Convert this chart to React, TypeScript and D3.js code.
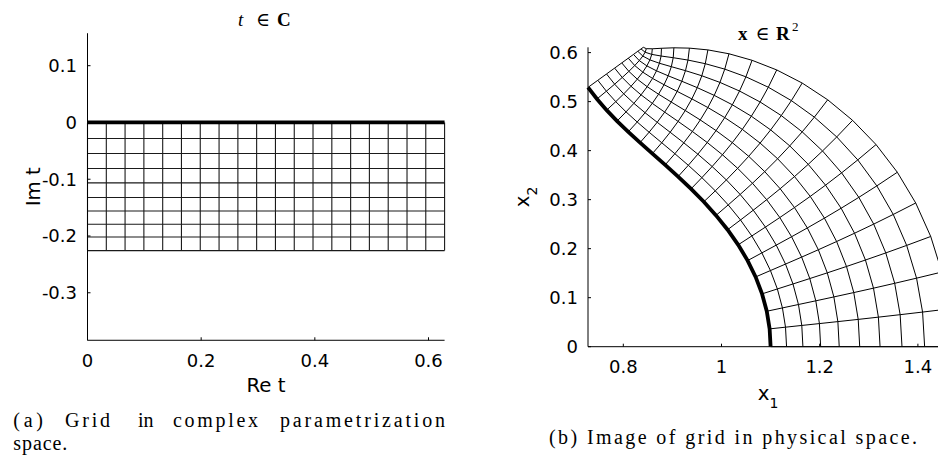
import * as d3 from 'd3';

// grid in the complex parameter plane
const reT = [
  0, 0.0331, 0.0661, 0.0992, 0.1323, 0.1653, 0.1984, 0.2315, 0.2646, 0.2976,
  0.3307, 0.3638, 0.3968, 0.4299, 0.463, 0.496, 0.5291, 0.5622, 0.5952, 0.6283,
];
const imT = [0, -0.0282, -0.0547, -0.0811, -0.1065, -0.1323, -0.1559, -0.1794, -0.2018, -0.2257];

const leftXTicks = [0, 0.2, 0.4, 0.6];
const leftYTicks = [0.1, 0, -0.1, -0.2, -0.3];
const leftYLim = [-0.3837, 0.1572];
const rightXTicks = [0.8, 1, 1.2, 1.4];
const rightYTicks = [0, 0.1, 0.2, 0.3, 0.4, 0.5, 0.6];

// boundary r = 1 + AMP cos(FOLD theta), extended to x(t) = e^{it} (1 + AMP cos(FOLD t))
const AMP = 0.1;
const FOLD = 5;

function toPhysical(a: number, b: number): [number, number] {
  const gr = 1 + AMP * Math.cos(FOLD * a) * Math.cosh(FOLD * b);
  const gi = -AMP * Math.sin(FOLD * a) * Math.sinh(FOLD * b);
  const m = Math.exp(-b);
  return [m * (Math.cos(a) * gr - Math.sin(a) * gi), m * (Math.sin(a) * gr + Math.cos(a) * gi)];
}

const sans = 'DejaVu Sans, sans-serif';
const serif = 'Liberation Serif, DejaVu Serif, serif';

export default function App() {
  // left panel
  const xL = d3.scaleLinear().domain([0, 0.6]).range([87.5, 428.5]);
  const yL = d3.scaleLinear().domain([-0.2, 0.1]).range([236, 65.7]);
  const line = d3.line<[number, number]>();

  const lx0 = xL(0);
  const lx1 = xL(reT[reT.length - 1]);
  const ly0 = yL(leftYLim[0]);
  const ly1 = yL(leftYLim[1]);

  // right panel
  const xR = d3.scaleLinear().domain([0.8, 1.4]).range([623.3, 917.9]);
  const yR = d3.scaleLinear().domain([0, 0.6]).range([346.7, 52.6]);

  const arcs = imT.map((b) => reT.map((a) => toPhysical(a, b)));
  const rays = reT.map((a) => imT.map((b) => toPhysical(a, b)));
  const all = arcs.flat();
  const xMin = d3.min(all, (d) => d[0]) as number;
  const xMax = d3.max(all, (d) => d[0]) as number;
  const yMax = d3.max(all, (d) => d[1]) as number;
  const lineR = d3.line<[number, number]>().x((d) => xR(d[0])).y((d) => yR(d[1]));

  const rx0 = xR(xMin);
  const rx1 = xR(xMax);
  const ry0 = yR(0);
  const ry1 = yR(yMax);

  const cxL = (lx0 + lx1) / 2;
  const cxR = (rx0 + rx1) / 2;

  return (
    <svg
      width={938}
      height={460}
      style={{ position: 'absolute', left: 0, top: 0, background: '#fff' }}
    >
      {/* ---------- panel (a) ---------- */}
      <g fill="none" stroke="#1a1a1a" strokeWidth={1.1}>
        {reT.map((a, i) => (
          <path key={'v' + i} d={line([[xL(a), yL(imT[0])], [xL(a), yL(imT[imT.length - 1])]]) as string} />
        ))}
        {imT.slice(1).map((b, i) => (
          <path key={'h' + i} d={line([[lx0, yL(b)], [lx1, yL(b)]]) as string} />
        ))}
      </g>
      <path d={line([[lx0, yL(0)], [lx1, yL(0)]]) as string} stroke="#000" strokeWidth={3.8} />
      <g stroke="#000" strokeWidth={1}>
        <line x1={lx0} x2={lx0} y1={ly1} y2={ly0} />
        <line x1={lx0} x2={lx1} y1={ly0} y2={ly0} />
        {leftXTicks.map((v) => (
          <line key={v} x1={xL(v)} x2={xL(v)} y1={ly0} y2={ly0 - 3} />
        ))}
        {leftYTicks.map((v) => (
          <line key={v} x1={lx0} x2={lx0 + 3} y1={yL(v)} y2={yL(v)} />
        ))}
      </g>
      <g fontFamily={sans} fontSize={18} fill="#000">
        {leftXTicks.map((v) => (
          <text key={v} x={xL(v)} y={ly0 + 27} textAnchor="middle">
            {String(v)}
          </text>
        ))}
        {leftYTicks.map((v) => (
          <text key={v} x={lx0 - 10.5} y={yL(v)} dy="0.35em" textAnchor="end">
            {String(v)}
          </text>
        ))}
      </g>
      <text x={cxL} y={391.5} fontFamily={sans} fontSize={19.8} textAnchor="middle">
        Re t
      </text>
      <text
        transform={`translate(40,${(ly0 + ly1) / 2}) rotate(-90)`}
        fontFamily={sans}
        fontSize={19.8}
        textAnchor="middle"
      >
        Im t
      </text>
      <g fontFamily={serif} fontSize={19}>
        <text x={cxL - 28} y={26} fontStyle="italic">t</text>
        <text x={cxL - 10} y={26}>∈</text>
        <text x={cxL + 11} y={26} fontWeight="bold">C</text>
      </g>

      {/* ---------- panel (b) ---------- */}
      <g fill="none" stroke="#000" strokeWidth={1}>
        {rays.map((r, i) => (
          <path key={'r' + i} d={lineR(r) as string} />
        ))}
        {arcs.slice(1).map((c, i) => (
          <path key={'c' + i} d={lineR(c) as string} />
        ))}
      </g>
      <path d={lineR(arcs[0]) as string} fill="none" stroke="#000" strokeWidth={3.8} />
      <g stroke="#000" strokeWidth={1}>
        <line x1={rx0} x2={rx0} y1={ry1} y2={ry0} />
        <line x1={rx0} x2={rx1} y1={ry0} y2={ry0} />
        {rightXTicks.map((v) => (
          <line key={v} x1={xR(v)} x2={xR(v)} y1={ry0} y2={ry0 - 3} />
        ))}
        {rightYTicks.map((v) => (
          <line key={v} x1={rx0} x2={rx0 + 3} y1={yR(v)} y2={yR(v)} />
        ))}
      </g>
      <g fontFamily={sans} fontSize={18} fill="#000">
        {rightXTicks.map((v) => (
          <text key={v} x={xR(v)} y={ry0 + 26.5} textAnchor="middle">
            {String(v)}
          </text>
        ))}
        {rightYTicks.map((v) => (
          <text key={v} x={rx0 - 10} y={yR(v)} dy="0.35em" textAnchor="end">
            {String(v)}
          </text>
        ))}
      </g>
      <text x={768} y={400} fontFamily={sans} fontSize={19.8} textAnchor="middle">
        x<tspan fontSize={14} dy={8}>1</tspan>
      </text>
      <text
        transform={`translate(528.5,${(ry0 + ry1) / 2}) rotate(-90)`}
        fontFamily={sans}
        fontSize={19.8}
        textAnchor="middle"
      >
        x<tspan fontSize={14} dy={8}>2</tspan>
      </text>
      <g fontFamily={serif} fontSize={19}>
        <text x={cxR - 31.5} y={40} fontWeight="bold">x</text>
        <text x={cxR - 14} y={40}>∈</text>
        <text x={cxR + 6.5} y={40} fontWeight="bold">R</text>
        <text x={cxR + 22.5} y={31} fontSize={13}>2</text>
      </g>

      {/* ---------- captions ---------- */}
      <g fontFamily={serif} fontSize={20} fill="#000">
        <text x={13.3} y={427} textLength={29.7} lengthAdjust="spacing">(a)</text>
        <text x={65} y={427} textLength={45} lengthAdjust="spacing">Grid</text>
        <text x={138} y={427}>in</text>
        <text x={173} y={427} textLength={85} lengthAdjust="spacing">complex</text>
        <text x={280} y={427} textLength={165} lengthAdjust="spacing">parametrization</text>
        <text x={13.3} y={449.5} textLength={54} lengthAdjust="spacing">space.</text>
        <text x={549} y={444} textLength={368} lengthAdjust="spacing">
          (b) Image of grid in physical space.
        </text>
      </g>
    </svg>
  );
}
